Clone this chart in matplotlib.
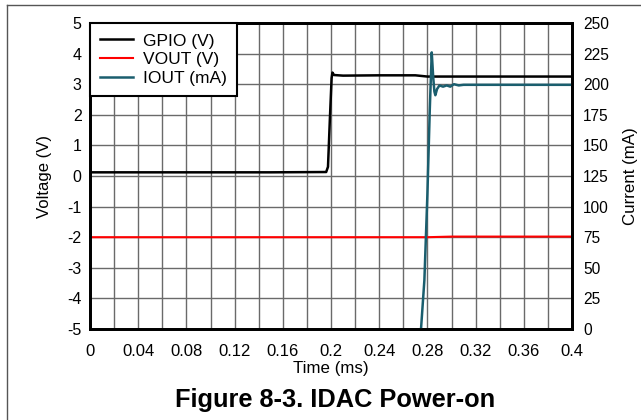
import matplotlib
matplotlib.use("Agg")
import matplotlib.pyplot as plt
from matplotlib.lines import Line2D
import numpy as np

plt.rcParams['font.family'] = ['Liberation Sans', 'DejaVu Sans']

# Data (time in ms)
gpio_t = [0.0, 0.05, 0.10, 0.15, 0.196, 0.1975, 0.1990, 0.2005, 0.2012, 0.2025, 0.210, 0.24, 0.27, 0.28, 0.30, 0.35, 0.40]
gpio_v = [0.12, 0.12, 0.12, 0.12, 0.13, 0.3, 1.8, 3.2, 3.38, 3.30, 3.28, 3.29, 3.29, 3.25, 3.25, 3.25, 3.25]

vout_t = [0.0, 0.1, 0.2, 0.28, 0.3, 0.4]
vout_v = [-2.0, -2.0, -2.0, -2.0, -1.98, -1.98]

iout_t = [0.2725, 0.2747, 0.2775, 0.2800, 0.2820, 0.2836, 0.2848, 0.2858, 0.2866, 0.2880, 0.2900,
          0.2930, 0.2960, 0.2990, 0.3020, 0.3060, 0.3100, 0.3500, 0.4000]
iout_ma = [-20, 0, 40, 110, 180, 226, 206, 194, 191, 196, 199,
           198, 199, 198, 200, 199, 199.5, 199.5, 199.5]

x_ticks = [0, 0.04, 0.08, 0.12, 0.16, 0.2, 0.24, 0.28, 0.32, 0.36, 0.4]
x_tick_labels = ['0', '0.04', '0.08', '0.12', '0.16', '0.2', '0.24', '0.28', '0.32', '0.36', '0.4']
v_ticks = [-5, -4, -3, -2, -1, 0, 1, 2, 3, 4, 5]
i_ticks = [0, 25, 50, 75, 100, 125, 150, 175, 200, 225, 250]

fig = plt.figure(figsize=(6.41, 4.20), dpi=100)
ax = fig.add_axes([90/641, 1-329/420, (572-90)/641, (329-23)/420])
ax2 = ax.twinx()

ax.set_xlim(0, 0.4)
ax.set_ylim(-5, 5)
ax2.set_ylim(0, 250)

ax.set_xticks(x_ticks)
ax.set_xticklabels(x_tick_labels)
ax.set_xticks(np.arange(0.02, 0.4, 0.04), minor=True)
ax.set_yticks(v_ticks)
ax.set_yticklabels([str(v) for v in v_ticks])
ax2.set_yticks(i_ticks)
ax2.set_yticklabels([str(v) for v in i_ticks])

ax.grid(True, which='both', color='#6a6a6a', linewidth=1.0)
ax.set_axisbelow(True)

ax.tick_params(axis='x', which='both', length=0, labelsize=12, pad=10.5)
ax.tick_params(axis='y', which='both', length=0, labelsize=11.5, pad=6)
ax2.tick_params(axis='y', length=0, labelsize=11.2, pad=8)

for a in (ax, ax2):
    for s in a.spines.values():
        s.set_linewidth(2)
        s.set_color('black')

l1, = ax.plot(gpio_t, gpio_v, color='black', linewidth=1.8, label='GPIO (V)')
l2, = ax.plot(vout_t, vout_v, color='#ff0000', linewidth=1.5, label='VOUT (V)')
l3, = ax2.plot(iout_t, iout_ma, color='#1a5e6e', linewidth=1.8, label='IOUT (mA)')

ax.set_xlabel('Time (ms)', fontsize=12.2, labelpad=1.5)
ax.set_ylabel('Voltage (V)', fontsize=12, labelpad=11)
ax2.set_ylabel('Current (mA)', fontsize=12.2, labelpad=10)

leg = ax2.legend(handles=[l1, l2, l3], loc='upper left', bbox_to_anchor=(0, 1),
                 fontsize=12.5, frameon=True, fancybox=False, borderaxespad=0,
                 handlelength=1.9, handletextpad=0.55, labelspacing=0.2,
                 borderpad=0.6)
leg.get_frame().set_edgecolor('black')
leg.get_frame().set_linewidth(1.5)
leg.get_frame().set_alpha(1)

fig.text(335/641, 1-407/420, 'Figure 8-3. IDAC Power-on', ha='center', va='baseline',
         fontsize=18.3, fontweight='bold')

# Figure border (left and top edges visible)
fig.add_artist(Line2D([7/641, 7/641], [0, 1-5/420], transform=fig.transFigure,
                      color='#555555', linewidth=1))
fig.add_artist(Line2D([7/641, 1], [1-5/420, 1-5/420], transform=fig.transFigure,
                      color='#555555', linewidth=1))

fig.savefig('out.png', dpi=100)
